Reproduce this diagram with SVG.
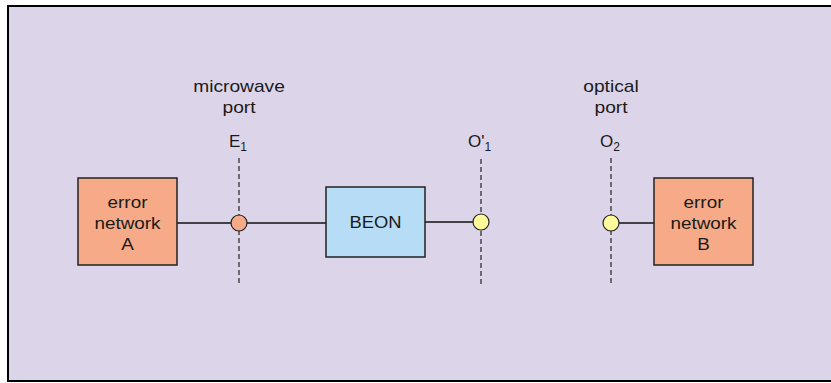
<svg xmlns="http://www.w3.org/2000/svg" width="831" height="383" viewBox="0 0 831 383">
<style>
text{font-family:"Liberation Sans",Arial,sans-serif;font-size:16px;fill:#1a1a1a;text-anchor:middle}
.lbl{font-size:17px}
.sub{font-size:12px}
.box{stroke:#222;stroke-width:1.5}
.orange{fill:#f6aa87}
.blue{fill:#b6ddf5}
.yellow{fill:#fffb9b}
.wire{stroke:#111;stroke-width:1.3;fill:none}
.dash{stroke:#222;stroke-width:1.2;stroke-dasharray:5 3;fill:none}
.port{stroke:#222;stroke-width:1.2}
</style>
<rect x="8" y="6" width="840" height="375" fill="#dcd5e9" stroke="#000" stroke-width="2"/>
<g id="connectors">
<line class="wire" x1="177" y1="223" x2="326" y2="223"/>
<line class="wire" x1="425" y1="222" x2="481" y2="222"/>
<line class="wire" x1="611" y1="223" x2="654" y2="223"/>
<line class="dash" x1="239" y1="158" x2="239" y2="284"/>
<line class="dash" x1="481" y1="159" x2="481" y2="284"/>
<line class="dash" x1="611" y1="158" x2="611" y2="284"/>
</g>
<g id="errorA">
<rect class="box orange" x="78" y="178" width="99" height="87"/>
<text transform="translate(127.5,208) scale(1.18,1)">error</text>
<text transform="translate(127.5,229) scale(1.18,1)">network</text>
<text transform="translate(127.5,250) scale(1.18,1)">A</text>
</g>
<g id="beon">
<rect class="box blue" x="326" y="187" width="99" height="70"/>
<text transform="translate(375.5,228) scale(1.15,1)">BEON</text>
</g>
<g id="errorB">
<rect class="box orange" x="654" y="178" width="99" height="87"/>
<text transform="translate(703.5,208) scale(1.18,1)">error</text>
<text transform="translate(703.5,229) scale(1.18,1)">network</text>
<text transform="translate(703.5,250) scale(1.18,1)">B</text>
</g>
<g id="portE1">
<circle class="port orange" cx="239" cy="223" r="8"/>
<text transform="translate(239,92) scale(1.2,1)">microwave</text>
<text transform="translate(239,113) scale(1.2,1)">port</text>
<text class="lbl" transform="translate(238,147)">E<tspan class="sub" dy="4">1</tspan></text>
</g>
<g id="portO1">
<circle class="port yellow" cx="481" cy="222" r="8"/>
<text class="lbl" transform="translate(479.5,147)">O'<tspan class="sub" dy="4">1</tspan></text>
</g>
<g id="portO2">
<circle class="port yellow" cx="611" cy="223" r="8"/>
<text transform="translate(611,92) scale(1.2,1)">optical</text>
<text transform="translate(611,113) scale(1.2,1)">port</text>
<text class="lbl" transform="translate(610,147)">O<tspan class="sub" dy="4">2</tspan></text>
</g>
</svg>
